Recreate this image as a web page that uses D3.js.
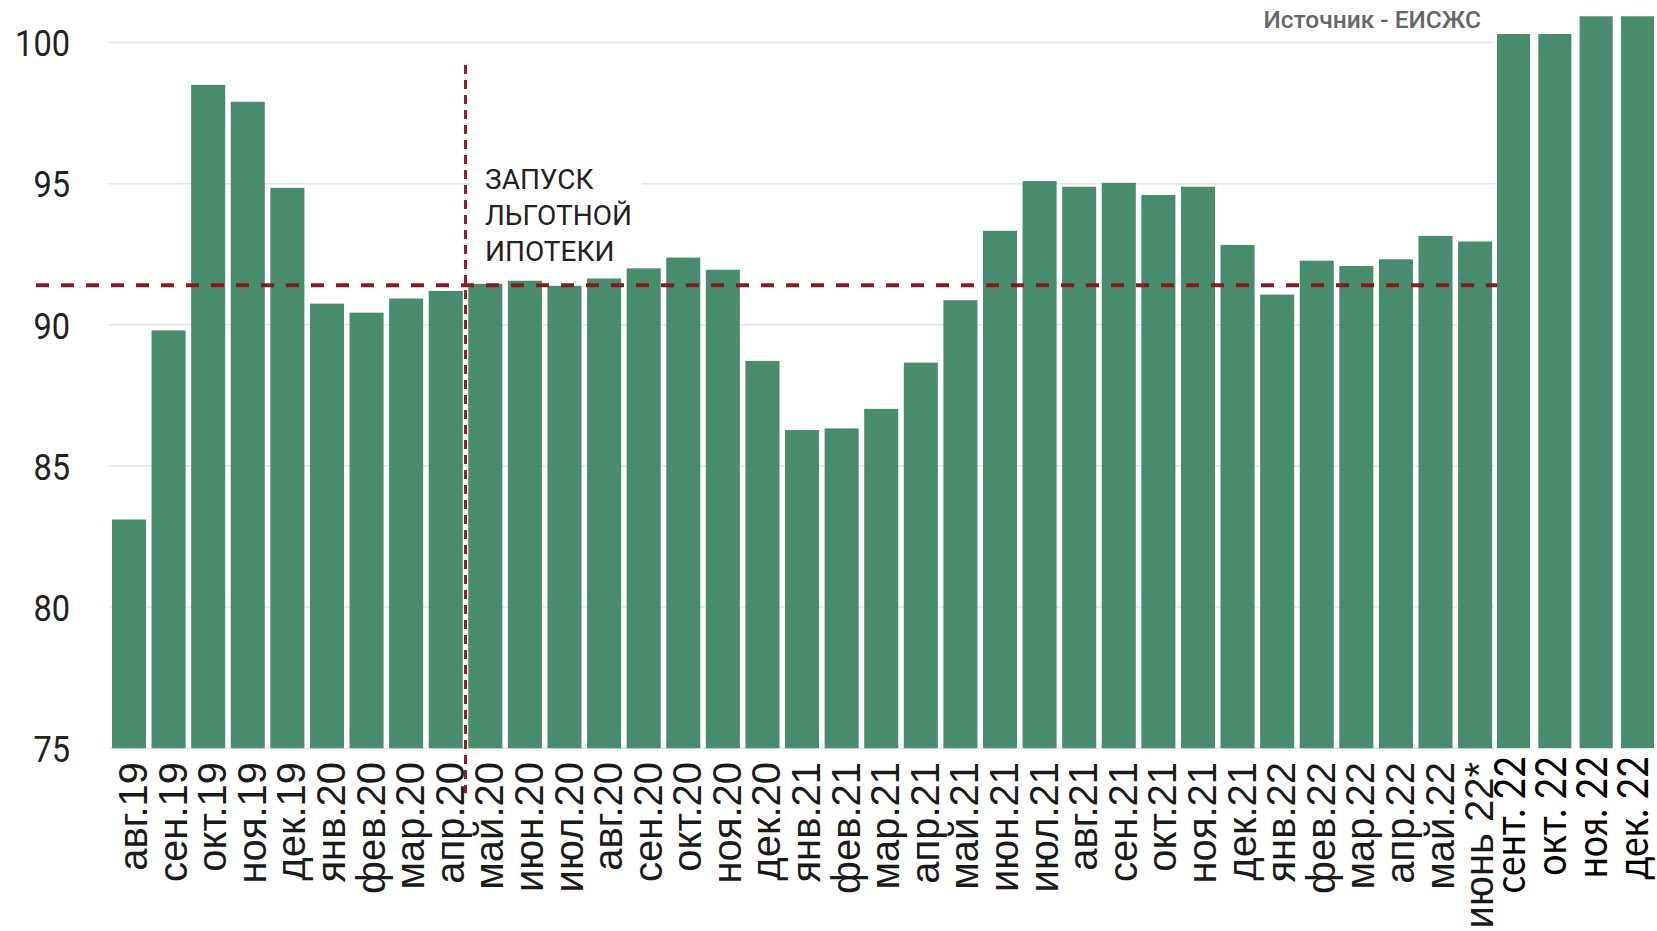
<!DOCTYPE html>
<html lang="ru">
<head>
<meta charset="utf-8">
<title>Индекс</title>
<script src="https://cdn.jsdelivr.net/npm/d3@7/dist/d3.min.js"></script>
<style>
  html, body { margin: 0; padding: 0; background: #fff; }
  svg { display: block; }
</style>
</head>
<body>
<svg id="chart" width="1657" height="931"></svg>
<script>
// Monthly series, Aug 2019 – Jun 2022
const months = [
  "авг.19","сен.19","окт.19","ноя.19","дек.19",
  "янв.20","фев.20","мар.20","апр.20","май.20","июн.20","июл.20","авг.20","сен.20","окт.20","ноя.20","дек.20",
  "янв.21","фев.21","мар.21","апр.21","май.21","июн.21","июл.21","авг.21","сен.21","окт.21","ноя.21","дек.21",
  "янв.22","фев.22","мар.22","апр.22","май.22","июнь 22*"
];
const values = [
  83.1, 89.8, 98.5, 97.9, 94.85,
  90.75, 90.43, 90.93, 91.2, 91.45, 91.56, 91.38, 91.64, 92.0, 92.38, 91.95, 88.72,
  86.27, 86.33, 87.02, 88.66, 90.87, 93.33, 95.09, 94.89, 95.03, 94.6, 94.89, 92.83,
  91.07, 92.27, 92.08, 92.32, 93.15, 92.95
];

// Later months appended on the right
const extraMonths = ["сент. 22", "окт. 22", "ноя. 22", "дек. 22"];
const extraValues = [100.3, 100.3, 100.93, 100.93];

const yTicks = [75, 80, 85, 90, 95, 100];
const referenceLevel = 91.4;
const launchMonth = "май.20";
const launchLabel = ["ЗАПУСК", "ЛЬГОТНОЙ", "ИПОТЕКИ"];
const sourceLabel = "Источник - ЕИСЖС";

const svg = d3.select("#chart");
const barColor = "#478c6d";
const redDash = "#8a1a20";

const y = d3.scaleLinear().domain([75, 100]).range([748.2, 42.5]);
const x = d3.scaleBand().domain(months).range([109.2, 1494.9])
  .paddingInner(0.14).paddingOuter(0.07);
const xe = d3.scaleBand().domain(extraMonths).range([1497, 1654])
  .paddingInner(0.2).paddingOuter(0);

// Gridlines
svg.append("g").selectAll("line").data(yTicks).join("line")
  .attr("x1", x.range()[0]).attr("x2", x.range()[1])
  .attr("y1", d => y(d)).attr("y2", d => y(d))
  .attr("stroke", "#e3e3e3").attr("stroke-width", 1.5);

// Y axis labels
const yAxis = d3.axisLeft(y).tickValues(yTicks).tickSize(0).tickPadding(0);
const yg = svg.append("g").attr("transform", "translate(70,0)").call(yAxis);
yg.select(".domain").remove();
yg.selectAll("text")
  .attr("x", 0).attr("dy", "0.36em")
  .attr("transform", "scale(0.88,1)")
  .attr("font-family", "Roboto, sans-serif")
  .attr("font-size", 37)
  .attr("fill", "#222");

// White plate behind the annotation
svg.append("rect")
  .attr("x", 470).attr("y", 156).attr("width", 172).attr("height", 112)
  .attr("fill", "#fff");

// Bars
svg.append("g").selectAll("rect").data(values).join("rect")
  .attr("x", (d, i) => x(months[i]))
  .attr("width", x.bandwidth())
  .attr("y", d => y(d))
  .attr("height", d => y(75) - y(d))
  .attr("fill", barColor);

svg.append("g").selectAll("rect").data(extraValues).join("rect")
  .attr("x", (d, i) => xe(extraMonths[i]))
  .attr("width", xe.bandwidth())
  .attr("y", d => y(d))
  .attr("height", d => y(75) - y(d))
  .attr("fill", barColor);

// Reference level
svg.append("line")
  .attr("x1", 36).attr("x2", xe.range()[0])
  .attr("y1", y(referenceLevel)).attr("y2", y(referenceLevel))
  .attr("stroke", redDash).attr("stroke-width", 4)
  .attr("stroke-dasharray", "13,12");

// Launch marker between апр.20 and май.20
const launchX = x(launchMonth) - x.step() * x.paddingInner() / 2;
svg.append("line")
  .attr("x1", launchX).attr("x2", launchX)
  .attr("y1", y(99.2)).attr("y2", y(75) + 45)
  .attr("stroke", "#971a2a").attr("stroke-width", 3)
  .attr("stroke-dasharray", "9,6");

svg.append("text")
  .attr("x", 485).attr("y", 189)
  .attr("font-family", "Roboto, sans-serif")
  .attr("font-size", 28)
  .attr("fill", "#222")
  .selectAll("tspan").data(launchLabel).join("tspan")
  .attr("x", 485).attr("dy", (d, i) => i === 0 ? 0 : 36)
  .text(d => d);

// Source note
svg.append("text")
  .attr("x", 1481).attr("y", 28)
  .attr("text-anchor", "end")
  .attr("font-family", "Roboto, sans-serif")
  .attr("font-weight", 500)
  .attr("font-size", 24.5)
  .attr("fill", "#666")
  .text(sourceLabel);

// Month labels
svg.append("g").selectAll("text").data(months).join("text")
  .attr("transform", d => `translate(${x(d) + x.bandwidth() / 2},762) rotate(-90)`)
  .attr("text-anchor", "end")
  .attr("dy", 18)
  .attr("font-family", "'Liberation Sans', Arial, sans-serif")
  .attr("font-size", 40)
  .attr("fill", "#1a1a1a")
  .text(d => d);

svg.append("g").selectAll("text").data(extraMonths).join("text")
  .attr("transform", d => `translate(${xe(d) + xe.bandwidth() / 2},756) rotate(-90) scale(0.87,1)`)
  .attr("text-anchor", "end")
  .attr("dy", 11)
  .attr("font-family", "Lato, sans-serif")
  .attr("font-size", 43)
  .attr("fill", "#000")
  .text(d => d);
</script>
</body>
</html>
